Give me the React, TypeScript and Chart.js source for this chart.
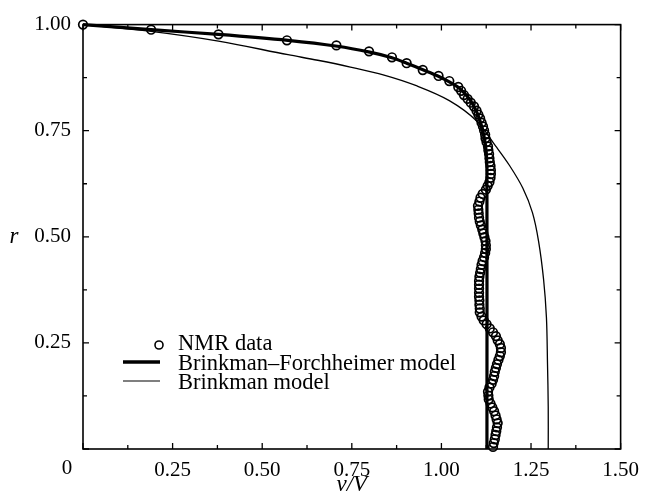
import React, { useEffect, useRef } from 'react';
import { Chart, registerables } from 'chart.js';

Chart.register(...registerables);

// ---- Data ----
const nmrV = [
  0, 0.19, 0.378, 0.569, 0.707, 0.798, 0.862, 0.903, 0.948, 0.992, 1.022,
  1.047, 1.055, 1.063, 1.073, 1.082, 1.091, 1.098, 1.103, 1.108, 1.112,
  1.116, 1.119, 1.122, 1.123, 1.126, 1.13, 1.131, 1.133, 1.134, 1.135,
  1.137, 1.138, 1.138, 1.137, 1.134, 1.129, 1.124, 1.115, 1.109, 1.106,
  1.102, 1.103, 1.104, 1.105, 1.107, 1.11, 1.114, 1.117, 1.12, 1.123,
  1.124, 1.124, 1.122, 1.119, 1.115, 1.112, 1.11, 1.108, 1.106, 1.105,
  1.105, 1.105, 1.105, 1.105, 1.106, 1.106, 1.107, 1.107, 1.112, 1.118,
  1.126, 1.135, 1.144, 1.152, 1.157, 1.163, 1.166, 1.166, 1.163, 1.159,
  1.155, 1.152, 1.149, 1.147, 1.144, 1.14, 1.134, 1.13, 1.131, 1.132,
  1.137, 1.142, 1.147, 1.151, 1.154, 1.157, 1.155, 1.153, 1.151, 1.149,
  1.146, 1.144,
];
const nmrR = [
  1.0, 0.988, 0.977, 0.963, 0.951, 0.937, 0.923, 0.909, 0.893, 0.879, 0.867,
  0.853, 0.844, 0.834, 0.825, 0.816, 0.807, 0.797, 0.788, 0.779, 0.769,
  0.76, 0.751, 0.741, 0.732, 0.723, 0.713, 0.704, 0.695, 0.685, 0.676,
  0.667, 0.657, 0.648, 0.639, 0.629, 0.62, 0.611, 0.601, 0.592, 0.583,
  0.573, 0.564, 0.555, 0.545, 0.536, 0.527, 0.517, 0.508, 0.499, 0.49,
  0.48, 0.471, 0.462, 0.452, 0.443, 0.434, 0.424, 0.415, 0.406, 0.396,
  0.387, 0.378, 0.368, 0.359, 0.35, 0.34, 0.331, 0.322, 0.312, 0.303,
  0.294, 0.284, 0.275, 0.266, 0.256, 0.247, 0.238, 0.228, 0.219, 0.21,
  0.2, 0.191, 0.182, 0.172, 0.163, 0.154, 0.145, 0.135, 0.126, 0.117,
  0.107, 0.098, 0.089, 0.079, 0.07, 0.061, 0.051, 0.042, 0.033, 0.023,
  0.014, 0.005,
];

const bfV = [0, 0.19, 0.378, 0.572, 0.71, 0.8, 0.862, 0.903, 0.95, 0.99, 1.022, 1.05, 1.077, 1.097, 1.11, 1.119, 1.125, 1.127, 1.127];
const bfR = [1.0, 0.988, 0.977, 0.963, 0.949, 0.935, 0.922, 0.909, 0.893, 0.879, 0.865, 0.85, 0.826, 0.797, 0.767, 0.736, 0.7, 0.65, 0.0];

const brV = [0, 0.19, 0.378, 0.572, 0.655, 0.746, 0.84, 0.93, 1.022, 1.097, 1.152, 1.19, 1.227, 1.254, 1.271, 1.285, 1.293, 1.296, 1.298, 1.298];
const brR = [1.0, 0.984, 0.961, 0.929, 0.916, 0.9, 0.881, 0.856, 0.821, 0.774, 0.713, 0.668, 0.615, 0.557, 0.49, 0.4, 0.31, 0.2, 0.1, 0.0];

const xTickValues = [0, 0.25, 0.5, 0.75, 1.0, 1.25, 1.5];
const yTickValues = [0, 0.25, 0.5, 0.75, 1.0];
const seriesLabels = ['NMR data', 'Brinkman–Forchheimer model', 'Brinkman model'];
const xTitle = 'v/V';
const yTitle = 'r';
const originLabel = '0';

const SERIF = "'Liberation Serif', 'DejaVu Serif', serif";

const toPts = (xs: number[], ys: number[]) => xs.map((x, i) => ({ x, y: ys[i] }));

const decorPlugin = {
  id: 'decor',
  afterDraw(chart: any) {
    const { ctx, chartArea } = chart;
    const { left, right, top, bottom } = chartArea;
    const xs = chart.scales.x;
    const ys = chart.scales.y;
    ctx.save();
    ctx.strokeStyle = '#000';
    ctx.fillStyle = '#000';
    // frame
    ctx.lineWidth = 1.6;
    ctx.strokeRect(left, top, right - left, bottom - top);
    // ticks (inward, all four sides)
    ctx.lineWidth = 1.3;
    const majLen = 6, minLen = 4;
    for (let i = 0; i < xTickValues.length; i++) {
      const v = xTickValues[i];
      const list: [number, number][] = [[v, majLen]];
      if (i < xTickValues.length - 1) list.push([(v + xTickValues[i + 1]) / 2, minLen]);
      for (const [val, len] of list) {
        const px = xs.getPixelForValue(val);
        ctx.beginPath();
        ctx.moveTo(px, bottom); ctx.lineTo(px, bottom - len);
        ctx.moveTo(px, top); ctx.lineTo(px, top + len);
        ctx.stroke();
      }
    }
    for (let i = 0; i < yTickValues.length; i++) {
      const v = yTickValues[i];
      const list: [number, number][] = [[v, majLen]];
      if (i < yTickValues.length - 1) list.push([(v + yTickValues[i + 1]) / 2, minLen]);
      for (const [val, len] of list) {
        const py = ys.getPixelForValue(val);
        ctx.beginPath();
        ctx.moveTo(left, py); ctx.lineTo(left + len, py);
        ctx.moveTo(right, py); ctx.lineTo(right - len, py);
        ctx.stroke();
      }
    }
    // origin label
    ctx.font = `21px ${SERIF}`;
    ctx.textAlign = 'center';
    ctx.textBaseline = 'alphabetic';
    ctx.fillText(originLabel, left - 16, bottom + 25);
    // axis titles
    ctx.font = `italic 23px ${SERIF}`;
    ctx.fillText(xTitle, (left + right) / 2, bottom + 42);
    ctx.fillText(yTitle, 14, ys.getPixelForValue(0.5) + 6);
    // legend
    const lx0 = left + 40, lx1 = left + 77, tx = left + 95;
    ctx.lineWidth = 1.6;
    ctx.beginPath();
    ctx.arc(left + 76, bottom - 104, 4, 0, Math.PI * 2);
    ctx.stroke();
    ctx.lineWidth = 3.5;
    ctx.beginPath(); ctx.moveTo(lx0, bottom - 87); ctx.lineTo(lx1, bottom - 87); ctx.stroke();
    ctx.lineWidth = 1.2;
    ctx.beginPath(); ctx.moveTo(lx0, bottom - 68); ctx.lineTo(lx1, bottom - 68); ctx.stroke();
    ctx.font = `22.5px ${SERIF}`;
    ctx.textAlign = 'left';
    ctx.fillText(seriesLabels[0], tx, bottom - 99);
    ctx.fillText(seriesLabels[1], tx, bottom - 79);
    ctx.fillText(seriesLabels[2], tx, bottom - 60);
    ctx.restore();
  },
};

export default function App() {
  const ref = useRef<HTMLCanvasElement | null>(null);
  useEffect(() => {
    document.body.style.margin = '0';
    const canvas = ref.current;
    if (!canvas) return;
    const chart = new Chart(canvas, {
      type: 'scatter',
      data: {
        datasets: [
          {
            label: seriesLabels[1],
            data: toPts(bfV, bfR),
            showLine: true,
            borderColor: '#000',
            borderWidth: 3.2,
            pointRadius: 0,
            tension: 0.25,
            clip: false,
          } as any,
          {
            label: seriesLabels[2],
            data: toPts(brV, brR),
            showLine: true,
            borderColor: '#000',
            borderWidth: 1.3,
            pointRadius: 0,
            tension: 0.35,
            clip: false,
          } as any,
          {
            label: seriesLabels[0],
            data: toPts(nmrV, nmrR),
            showLine: false,
            borderColor: '#000',
            backgroundColor: 'rgba(0,0,0,0)',
            borderWidth: 1.7,
            pointRadius: 4.3,
            pointStyle: 'circle',
            clip: false,
          } as any,
        ],
      },
      options: {
        responsive: false,
        animation: false,
        layout: { padding: { top: 20, right: 22, left: 0, bottom: 0 } },
        plugins: { legend: { display: false }, tooltip: { enabled: false } },
        scales: {
          x: {
            type: 'linear',
            min: 0,
            max: 1.5,
            grid: { display: false, drawTicks: false },
            border: { display: false },
            afterBuildTicks: (s: any) => { s.ticks = xTickValues.map((value) => ({ value })); },
            afterFit: (s: any) => { s.height = 54; },
            ticks: {
              padding: 9,
              color: '#000',
              font: { family: SERIF, size: 21 },
              callback: (v: any) => (Number(v) === 0 ? '' : Number(v).toFixed(2)),
            },
          },
          y: {
            type: 'linear',
            min: 0,
            max: 1.0,
            grid: { display: false, drawTicks: false },
            border: { display: false },
            afterBuildTicks: (s: any) => { s.ticks = yTickValues.map((value) => ({ value })); },
            afterFit: (s: any) => { s.width = 83; },
            ticks: {
              padding: 12,
              color: '#000',
              font: { family: SERIF, size: 21 },
              callback: (v: any) => (Number(v) === 0 ? '' : Number(v).toFixed(2)),
            },
          },
        },
      },
      plugins: [decorPlugin],
    } as any);
    return () => chart.destroy();
  }, []);
  return (
    <div style={{ width: 648, height: 503, background: '#fff' }}>
      <canvas ref={ref} width={648} height={503} style={{ display: 'block' }} />
    </div>
  );
}
